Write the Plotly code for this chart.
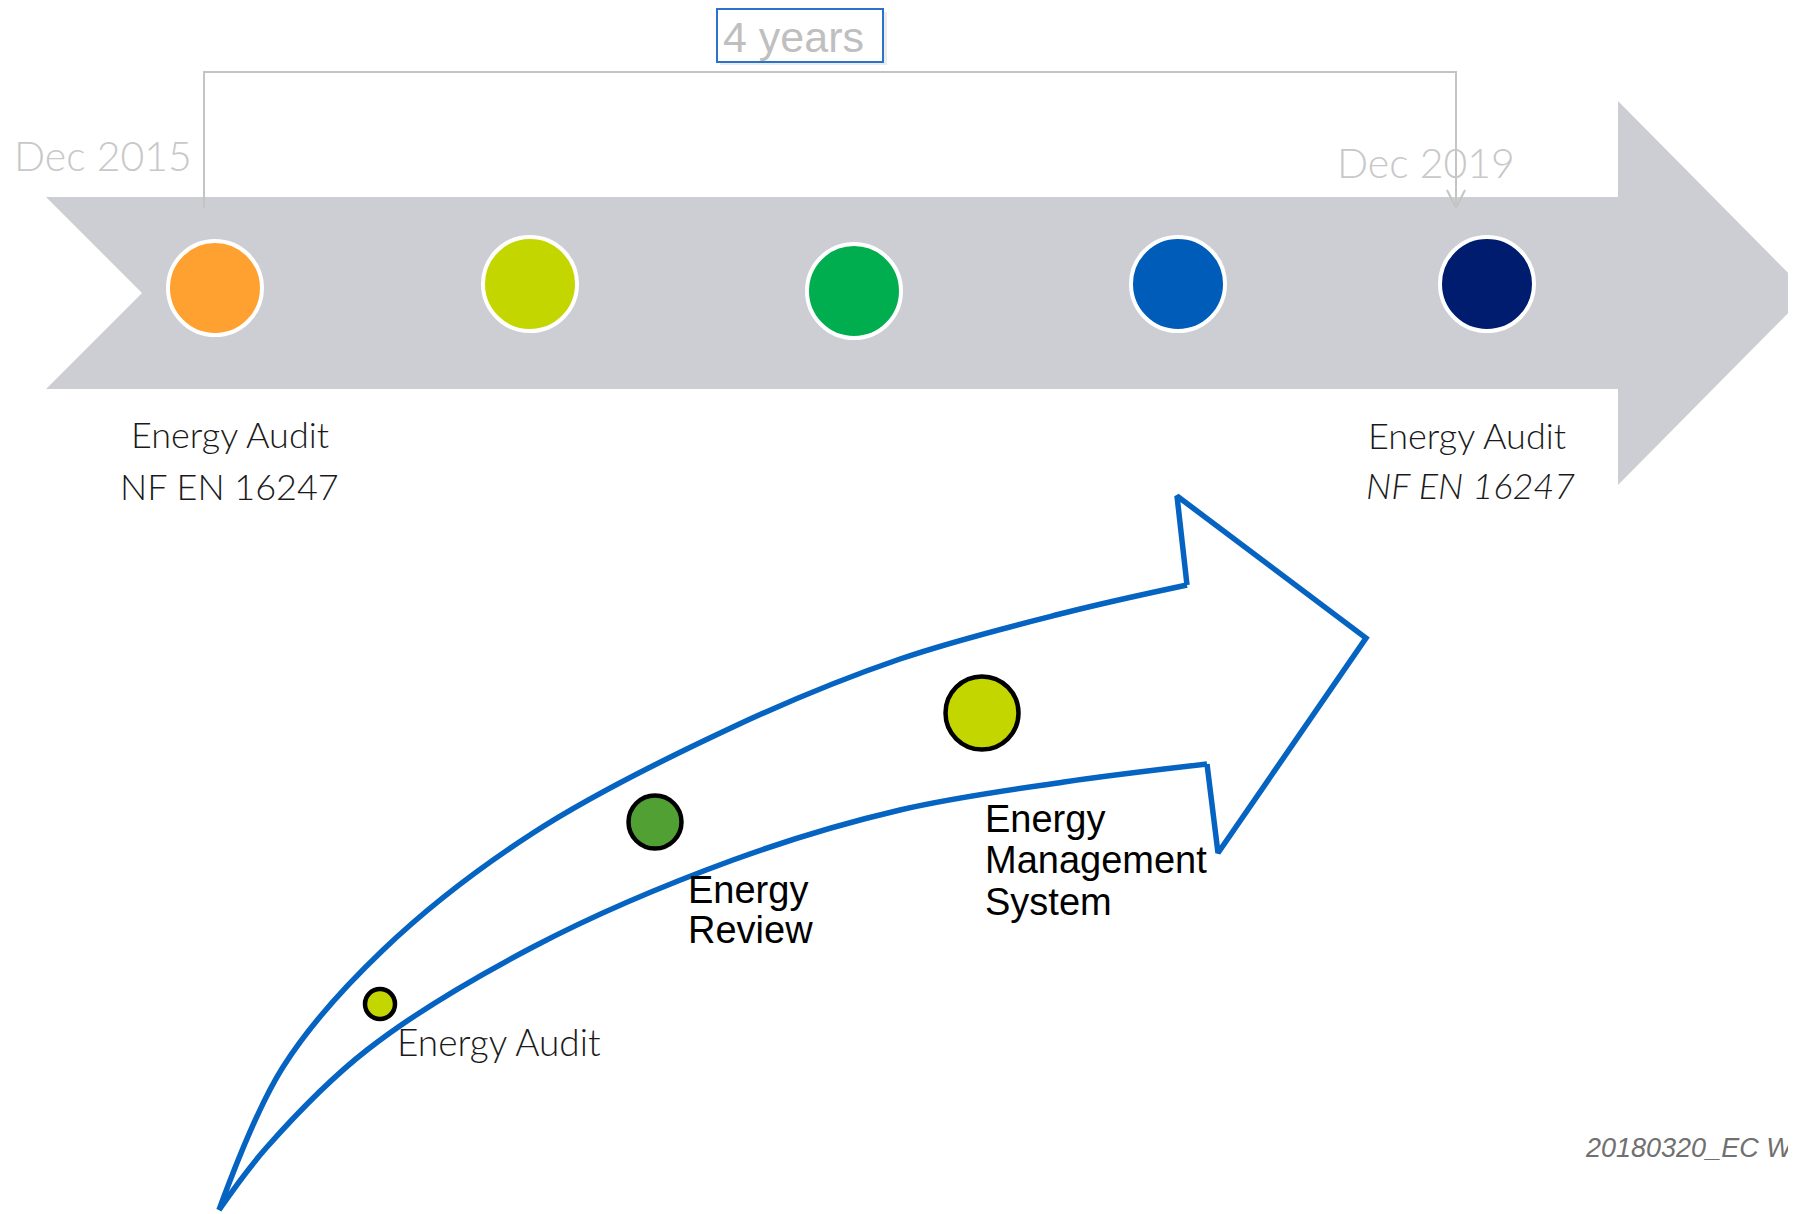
import plotly.graph_objects as go

W, H = 1796, 1214
OFF = 8  # page body margin

# ---- data ----
milestone_x = [215, 530, 854, 1178, 1487]
milestone_y = [288, 284, 291, 284, 284]
milestone_colors = ["#ffa131", "#c4d600", "#00ae4f", "#005cb9", "#001c6e"]

band_x = [46, 1618, 1618, 1808, 1618, 1618, 46, 142, 46]
band_y = [197, 197, 101, 293, 485, 389, 389, 293, 197]

bracket_x = [204, 204, 1456, 1456]
bracket_y = [208, 72, 72, 208]
bracket_head_x = [1447, 1456, 1465]
bracket_head_y = [190, 208, 190]

upper_x = [219, 283, 383, 533, 733, 900, 1064, 1187]
upper_y = [1210, 1067, 950, 833, 727, 659, 613, 585]
head_x = [1187, 1177, 1366, 1218, 1207]
head_y = [585, 496, 638, 853, 764]
lower_x = [1207, 1064, 900, 733, 533, 367, 267, 219]
lower_y = [764, 782, 810, 860, 947, 1050, 1147, 1210]

step_x = [380, 655, 982]
step_y = [1004, 822, 713]
step_sizes = [30, 53, 73]
step_colors = ["#c4d600", "#50a033", "#c4d600"]

fig = go.Figure()

# grey timeline arrow
fig.add_trace(go.Scatter(x=band_x, y=band_y, mode="lines", fill="toself",
                         fillcolor="#cdced3", line=dict(width=0), hoverinfo="skip"))

# bracket
fig.add_trace(go.Scatter(x=bracket_x, y=bracket_y, mode="lines",
                         line=dict(color="#c4c4c4", width=2), hoverinfo="skip"))
fig.add_trace(go.Scatter(x=bracket_head_x, y=bracket_head_y, mode="lines",
                         line=dict(color="#c4c4c4", width=2), hoverinfo="skip"))

# milestones
fig.add_trace(go.Scatter(x=milestone_x, y=milestone_y, mode="markers",
                         marker=dict(size=94, color=milestone_colors, opacity=1,
                                     line=dict(color="white", width=4)),
                         hoverinfo="skip"))

# blue curved arrow
blue = "#0563c1"
for xs, ys, shp in [(upper_x, upper_y, "spline"), (head_x, head_y, "linear"),
                    (lower_x, lower_y, "spline")]:
    fig.add_trace(go.Scatter(x=xs, y=ys, mode="lines",
                             line=dict(color=blue, width=5.5, shape=shp, smoothing=1,
                                       simplify=False),
                             hoverinfo="skip"))

# steps
fig.add_trace(go.Scatter(x=step_x, y=step_y, mode="markers",
                         marker=dict(size=step_sizes, color=step_colors, opacity=1,
                                     line=dict(color="black", width=4.5)),
                         hoverinfo="skip"))

shapes = [
    dict(type="rect", x0=720, x1=887, y0=12, y1=65, xref="x", yref="y",
         fillcolor="#ececec", line=dict(width=0), layer="below"),
    dict(type="rect", x0=717, x1=883, y0=9, y1=62, xref="x", yref="y",
         fillcolor="white", line=dict(color="#2a73c8", width=2), layer="below"),
]

light = "Lato Light, Lato"
ann = []
def A(text, x, y, size, color, family, xanchor="center", weight=None, italic=False):
    f = dict(size=size, color=color, family=family)
    if weight:
        f["weight"] = weight
    if italic:
        f["style"] = "italic"
    ann.append(dict(text=text, x=x, y=y, xref="x", yref="y", showarrow=False,
                    xanchor=xanchor, yanchor="middle", font=f))

A("4 years", 793, 37, 43, "#bfbfbf", "Liberation Sans")
A("Dec 2015", 103, 155, 41, "#c8c8c8", light, weight=300)
A("Dec 2019", 1426, 162, 41, "#c8c8c8", light, weight=300)
A("Energy Audit", 230, 434, 36, "#1a1a1a", light, weight=300)
A("NF EN 16247", 229, 486, 36, "#1a1a1a", light, weight=300)
A("Energy Audit", 1467, 435, 36, "#1a1a1a", light, weight=300)
A("NF EN 16247", 1470, 485, 36, "#1a1a1a", light, weight=300, italic=True)
A("Energy Audit", 395, 1041, 37, "#1a1a1a", light, xanchor="left", weight=300)
A("Energy", 686, 890, 38, "black", "Liberation Sans", xanchor="left")
A("Review", 686, 930, 38, "black", "Liberation Sans", xanchor="left")
A("Energy", 983, 819, 38, "black", "Liberation Sans", xanchor="left")
A("Management", 983, 860, 38, "black", "Liberation Sans", xanchor="left")
A("System", 983, 902, 38, "black", "Liberation Sans", xanchor="left")
A("20180320_EC W", 1583, 1148, 27, "#707070", "Liberation Sans", xanchor="left", italic=True)

fig.update_layout(
    width=W, height=H, margin=dict(l=0, r=0, t=0, b=0),
    paper_bgcolor="white", plot_bgcolor="white", showlegend=False,
    xaxis=dict(range=[OFF, W + OFF], visible=False, fixedrange=True),
    yaxis=dict(range=[H + OFF, OFF], visible=False, fixedrange=True),
    shapes=shapes, annotations=ann,
)

fig.write_html("out.html")
